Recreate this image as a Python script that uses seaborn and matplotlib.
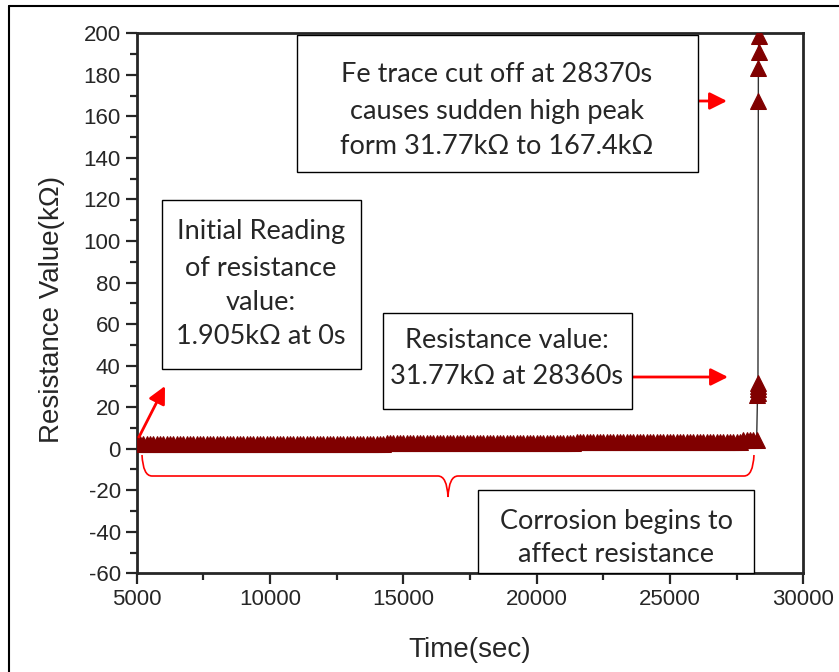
import numpy as np
import pandas as pd
import matplotlib
matplotlib.use('Agg')
import matplotlib.pyplot as plt
import seaborn as sns
from matplotlib.patches import Rectangle, PathPatch
from matplotlib.path import Path
from matplotlib.ticker import MultipleLocator

# readings before the cut-off (sampled every 125 s)
time_band = list(range(5000, 28251, 125))
res_band = [
    # 5000 - 14250 s
    2.2, 2.2, 2.25, 2.2, 2.2, 2.2, 2.25, 2.2, 2.2, 2.2, 2.2, 2.25, 2.2, 2.2, 2.2,
    2.2, 2.25, 2.2, 2.2, 2.2, 2.2, 2.2, 2.25, 2.2, 2.2, 2.2, 2.2, 2.2, 2.25, 2.2,
    2.2, 2.2, 2.25, 2.2, 2.2, 2.2, 2.2, 2.2, 2.2, 2.25, 2.2, 2.2, 2.2, 2.2, 2.25,
    2.2, 2.2, 2.2, 2.25, 2.2, 2.2, 2.2, 2.2, 2.2, 2.25, 2.2, 2.2, 2.2, 2.2, 2.2,
    2.25, 2.2, 2.2, 2.2, 2.2, 2.25, 2.2, 2.2, 2.2, 2.2, 2.2, 2.25, 2.2, 2.2, 2.2,
    # 14375 - 21375 s
    2.5, 2.5, 2.55, 2.5, 2.5, 2.5, 2.5, 2.55, 2.5, 2.5, 2.5, 2.5, 2.5, 2.55, 2.5,
    2.5, 2.5, 2.5, 2.55, 2.5, 2.5, 2.5, 2.5, 2.5, 2.55, 2.5, 2.5, 2.5, 2.5, 2.5,
    2.55, 2.5, 2.5, 2.5, 2.5, 2.55, 2.5, 2.5, 2.5, 2.5, 2.5, 2.55, 2.5, 2.5, 2.5,
    2.5, 2.5, 2.55, 2.5, 2.5, 2.5, 2.5, 2.55, 2.5, 2.5, 2.5, 2.5,
    # 21500 - 26875 s
    3.0, 3.0, 3.05, 3.0, 3.0, 3.0, 3.0, 3.05, 3.0, 3.0, 3.0, 3.0, 3.0, 3.05, 3.0,
    3.0, 3.0, 3.0, 3.05, 3.0, 3.0, 3.0, 3.0, 3.0, 3.05, 3.0, 3.0, 3.0, 3.0, 3.0,
    3.05, 3.0, 3.0, 3.0, 3.0, 3.05, 3.0, 3.0, 3.0, 3.0, 3.0, 3.05, 3.0, 3.0,
    # 27000 - 27625 s
    3.3, 3.35, 3.3, 3.3, 3.35, 3.3,
    # 27750 - 28250 s
    4.0, 4.05, 4.0, 4.0, 4.1]
# readings around the Fe trace cut-off
time_peak = [28280, 28285, 28290, 28295, 28300, 28310, 28315, 28320, 28325]
res_peak = [25.8, 27.0, 28.5, 30.0, 31.77, 167.4, 183.3, 191.0, 198.5]

df = pd.DataFrame({'Time': time_band + time_peak,
                   'Resistance': res_band + res_peak})

sns.set_style('ticks')
plt.rcParams['font.family'] = ['Liberation Sans', 'DejaVu Sans']
plt.rcParams['axes.unicode_minus'] = False

W, H = 839, 672
fig = plt.figure(figsize=(W / 100, H / 100), dpi=100)
ax = fig.add_axes([136.7 / W, 1 - 573.3 / H, 666.6 / W, 540 / H])


def fp(x, y):
    # pixel position -> figure fraction
    return (x / W, 1 - y / H)


sns.lineplot(data=df, x='Time', y='Resistance', sort=False, ax=ax,
             color='#333333', linewidth=1.0, marker='^', markersize=11,
             markerfacecolor='#800000', markeredgecolor='#800000',
             clip_on=True, zorder=3)

ax.set_xlim(5000, 30000)
ax.set_ylim(-60, 200)
ax.xaxis.set_major_locator(MultipleLocator(5000))
ax.xaxis.set_minor_locator(MultipleLocator(2500))
ax.yaxis.set_major_locator(MultipleLocator(20))
ax.yaxis.set_minor_locator(MultipleLocator(10))
ax.tick_params(which='major', length=8, width=1.6, labelsize=16, direction='out')
ax.tick_params(which='minor', length=5, width=1.6, direction='out')
for s in ax.spines.values():
    s.set_linewidth(2)
    s.set_visible(True)

ax.set_xlabel('Time(sec)', fontsize=20, va='center')
ax.set_ylabel('Resistance Value(k\u03a9)', fontsize=20, va='center')
ax.xaxis.set_label_coords(0.5, (573.3 - 650) / 540)
ax.yaxis.set_label_coords((52 - 136.7) / 666.6, 0.5 - (309 - 303.3) / 540)

# annotation boxes
boxes = [
    ((297, 35, 698, 172), 497, [75, 111, 147],
     ['Fe trace cut off at 28370s', 'causes sudden high peak',
      'form 31.77k\u03a9 to 167.4k\u03a9']),
    ((162, 200, 361, 369), 261, [232, 268, 302, 337],
     ['Initial Reading', 'of resistance', 'value:', '1.905k\u03a9 at 0s']),
    ((383, 313, 632, 409), 507, [340, 377],
     ['Resistance value:', '31.77k\u03a9 at 28360s']),
    ((478, 490, 754, 573), 616, [521, 554],
     ['Corrosion begins to', 'affect resistance']),
]
for (x0, y0, x1, y1), cx, ys, lines in boxes:
    fig.patches.append(Rectangle(fp(x0, y1), (x1 - x0) / W, (y1 - y0) / H,
                                 transform=fig.transFigure, fill=True,
                                 facecolor='white', edgecolor='black',
                                 linewidth=1.0, zorder=4))
    for yy, t in zip(ys, lines):
        fig.text(*fp(cx, yy), t, ha='center', va='center', fontsize=19.5,
                 family=['Lato', 'DejaVu Sans'], zorder=5)

# red arrows
arrows = [((139, 437), (165, 386)), ((612, 101), (727, 101)),
          ((632, 377), (728, 377))]
for start, tip in arrows:
    ax.annotate('', xy=fp(*tip), xytext=fp(*start), xycoords='figure fraction',
                textcoords='figure fraction',
                arrowprops=dict(arrowstyle='-|>', color='red', lw=2,
                                mutation_scale=26, shrinkA=0, shrinkB=0))

# red brace under the band
pts = [(142, 455), (143, 476), (152, 476), (438, 476), (447, 476), (448, 497),
       (449, 476), (458, 476), (744, 476), (753, 476), (754, 455)]
codes = [Path.MOVETO, Path.CURVE3, Path.CURVE3, Path.LINETO, Path.CURVE3,
         Path.CURVE3, Path.CURVE3, Path.CURVE3, Path.LINETO, Path.CURVE3,
         Path.CURVE3]
brace = Path([fp(*p) for p in pts], codes)
fig.patches.append(PathPatch(brace, transform=fig.transFigure, fill=False,
                             edgecolor='red', linewidth=1.2, zorder=4))

# outer frame
fig.add_artist(plt.Line2D([9 / W, 9 / W], [0, 1 - 6 / H], color='black',
                          lw=1.5, transform=fig.transFigure))
fig.add_artist(plt.Line2D([9 / W, 1], [1 - 6 / H, 1 - 6 / H], color='black',
                          lw=1.5, transform=fig.transFigure))

fig.savefig('out.png', dpi=100)
